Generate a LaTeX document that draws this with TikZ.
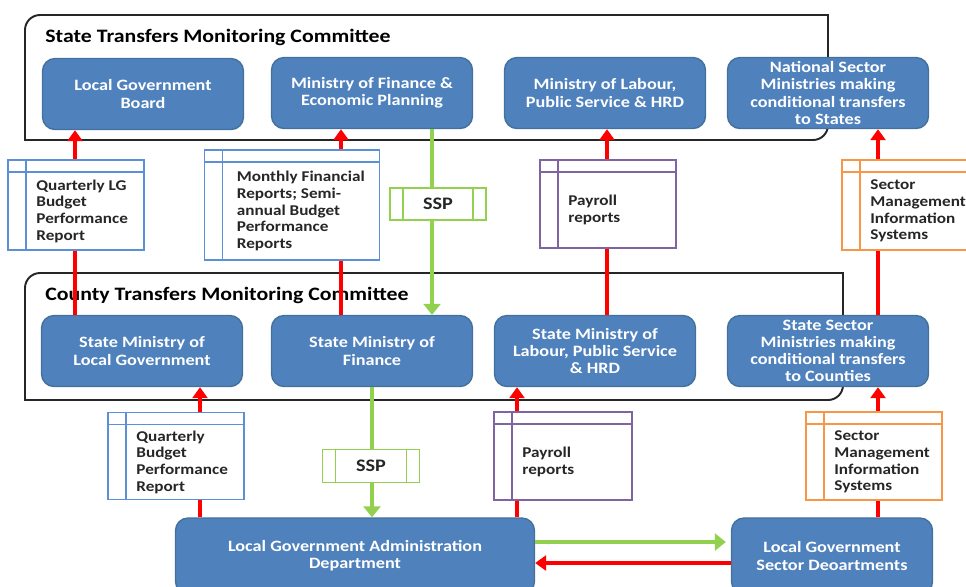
\documentclass[tikz,border=0pt]{standalone}
\usepackage{fontspec}
\setmainfont{Carlito}[FakeStretch=1.15]
\usetikzlibrary{arrows.meta}

\definecolor{boxblue}{HTML}{4F81BD}
\definecolor{boxedge}{HTML}{41719C}
\definecolor{docblue}{HTML}{5B8FD6}
\definecolor{docpurple}{HTML}{8064A2}
\definecolor{docorange}{HTML}{F79646}
\definecolor{docgreen}{HTML}{92D050}
\definecolor{arrowred}{HTML}{FF0000}
\definecolor{doctextcol}{HTML}{262626}

\begin{document}
\begin{tikzpicture}[
  x=0.02cm, y=-0.02cm,
  govbox/.style={draw=boxedge, fill=boxblue, rounded corners=0.25cm, line width=0.8pt,
    text=white, align=center, font=\bfseries\fontsize{9}{9.7}\selectfont,
    minimum width=4.02cm, minimum height=1.42cm, inner sep=0pt},
  docbox/.style={draw=#1, fill=white, line width=1.1pt, inner sep=0pt,
    path picture={
      \draw[#1, line width=1.1pt] ([xshift=3.6mm]path picture bounding box.north west) -- ([xshift=3.6mm]path picture bounding box.south west);
      \draw[#1, line width=1.1pt] ([yshift=-2.4mm]path picture bounding box.north west) -- ([yshift=-2.4mm]path picture bounding box.north east);
    }},
  sspbox/.style={draw=docgreen, fill=white, line width=1.1pt, inner sep=0pt,
    font=\bfseries\fontsize{10}{12}\selectfont, text=doctextcol,
    path picture={
      \draw[docgreen, line width=1.1pt] ([xshift=2.6mm]path picture bounding box.north west) -- ([xshift=2.6mm]path picture bounding box.south west);
      \draw[docgreen, line width=1.1pt] ([xshift=-2.6mm]path picture bounding box.north east) -- ([xshift=-2.6mm]path picture bounding box.south east);
    }},
  doctext/.style={text=doctextcol, align=left, font=\bfseries\fontsize{8.5}{9.5}\selectfont,
    inner sep=0pt, anchor=west, xshift=5.8mm, yshift=-1.2mm},
  frame/.style={draw=black!85, line width=1.1pt},
  title/.style={font=\bfseries\fontsize{10.8}{12}\selectfont, anchor=west, inner sep=0pt},
  redline/.style={draw=arrowred, line width=2.2pt},
  redarrow/.style={redline, -{Triangle[length=2.2mm, width=3mm]}},
  greenline/.style={draw=docgreen, line width=1.8pt},
  greenarrow/.style={greenline, -{Triangle[length=2.2mm, width=3.4mm]}}
]
\useasboundingbox (0,0) rectangle (966,586);
\fill[white] (0,0) rectangle (966,586);
\clip (0,0) rectangle (966,586);

% committee frames
\draw[frame] (25,80) -- (25,60) [rounded corners=0.3cm] -- (25,15) -- (200,15) [sharp corners] -- (828,15) -- (828,100) [rounded corners=0.3cm] -- (828,140) -- (700,140) [sharp corners] -- (25,140) -- (25,80);
\draw[frame] (25,340) -- (25,320) [rounded corners=0.3cm] -- (25,273) -- (200,273) [sharp corners] -- (843,273) -- (843,360) [rounded corners=0.3cm] -- (843,400) -- (700,400) [sharp corners] -- (25,400) -- (25,340);
\node (statetitle) [title] at (45,37) {State Transfers Monitoring Committee};
\node (countytitle) [title] at (45,295) {County Transfers Monitoring Committee};

% line columns
\coordinate (lgcol) at (75,0);
\coordinate (mfcol) at (341,0);
\coordinate (sspcol) at (432,0);
\coordinate (paycol) at (607,0);
\coordinate (seccol) at (878,0);
\coordinate (qbcol) at (200,0);
\coordinate (ssptwocol) at (372,0);
\coordinate (paytwocol) at (517,0);

% state level
\node (lgb) [govbox] at (143,94) {Local Government\\Board};
\node (mof) [govbox] at (372,93) {Ministry of Finance \&\\Economic Planning};
\node (mol) [govbox] at (605,93) {Ministry of Labour,\\Public Service \& HRD};
\node (nsm) [govbox] at (828,93) {National Sector\\Ministries making\\conditional transfers\\to States};

% county level
\node (smlg) [govbox] at (142,351) {State Ministry of\\Local Government};
\node (smf) [govbox] at (372,351) {State Ministry of\\Finance};
\node (sml) [govbox] at (595,351) {State Ministry of\\Labour, Public Service\\\& HRD};
\node (ssm) [govbox] at (828,351) {State Sector\\Ministries making\\conditional transfers\\to Counties};

% local level
\node (lgad) [govbox, minimum width=7.18cm, minimum height=1.52cm] at (355,556) {Local Government Administration\\Department};
\node (lgsd) [govbox, minimum height=1.52cm] at (832,556) {Local Government\\Sector Deoartments};

% reports
\node (qlg) [docbox=docblue, minimum width=2.72cm, minimum height=1.8cm,
  label={[doctext]west:{Quarterly LG\\Budget\\Performance\\Report}}] at (76,205) {};
\node (mfr) [docbox=docblue, minimum width=3.5cm, minimum height=2.2cm,
  label={[doctext, xshift=0.8mm]west:{Monthly Financial\\Reports; Semi-\\annual Budget\\Performance\\Reports}}] at (292,205) {};
\node (sspa) [sspbox, minimum width=1.92cm, minimum height=0.64cm] at (438,204) {SSP};
\node (paya) [docbox=docpurple, minimum width=2.72cm, minimum height=1.76cm,
  label={[doctext]west:{Payroll\\reports}}] at (608,204) {};
\node (misa) [docbox=docorange, minimum width=2.72cm, minimum height=1.8cm,
  label={[doctext]west:{Sector\\Management\\Information\\Systems}}] at (910,205) {};

\node (qb) [docbox=docblue, minimum width=2.72cm, minimum height=1.74cm,
  label={[doctext]west:{Quarterly\\Budget\\Performance\\Report}}] at (176,456) {};
\node (sspb) [sspbox, minimum width=1.94cm, minimum height=0.66cm] at (371,466) {SSP};
\node (payb) [docbox=docpurple, minimum width=2.76cm, minimum height=1.76cm,
  label={[doctext]west:{Payroll\\reports}}] at (563,456) {};
\node (misb) [docbox=docorange, minimum width=2.72cm, minimum height=1.76cm,
  label={[doctext]west:{Sector\\Management\\Information\\Systems}}] at (874,456) {};

% county to state
\draw[redline] (smlg.north -| lgcol) -- (qlg.south -| lgcol);
\draw[redarrow] (qlg.north -| lgcol) -- (lgb.south -| lgcol);
\draw[redline] (smf.north -| mfcol) -- (mfr.south -| mfcol);
\draw[redarrow] (mfr.north -| mfcol) -- (mof.south -| mfcol);
\draw[greenline] (mof.south -| sspcol) -- (sspa.north -| sspcol);
\draw[greenarrow] (sspa.south -| sspcol) -- (smf.north -| sspcol);
\draw[redline] (sml.north -| paycol) -- (paya.south -| paycol);
\draw[redarrow] (paya.north -| paycol) -- (mol.south -| paycol);
\draw[redline] (ssm.north -| seccol) -- (misa.south -| seccol);
\draw[redarrow] (misa.north -| seccol) -- (nsm.south -| seccol);

% local to county
\draw[redline] (lgad.north -| qbcol) -- (qb.south -| qbcol);
\draw[redarrow] (qb.north -| qbcol) -- (smlg.south -| qbcol);
\draw[greenline] (smf.south -| ssptwocol) -- (sspb.north -| ssptwocol);
\draw[greenarrow] (sspb.south -| ssptwocol) -- (lgad.north -| ssptwocol);
\draw[redline] (lgad.north -| paytwocol) -- (payb.south -| paytwocol);
\draw[redarrow] (payb.north -| paytwocol) -- (sml.south -| paytwocol);
\draw[redline] (lgsd.north -| seccol) -- (misb.south -| seccol);
\draw[redarrow] (misb.north -| seccol) -- (ssm.south -| seccol);

% local exchange
\draw[greenarrow] ([yshift=2.8mm]lgad.east) -- ([yshift=2.8mm, xshift=-1mm]lgsd.west);
\draw[redarrow] ([yshift=-1.4mm]lgsd.west) -- ([yshift=-1.4mm]lgad.east);
\end{tikzpicture}
\end{document}
